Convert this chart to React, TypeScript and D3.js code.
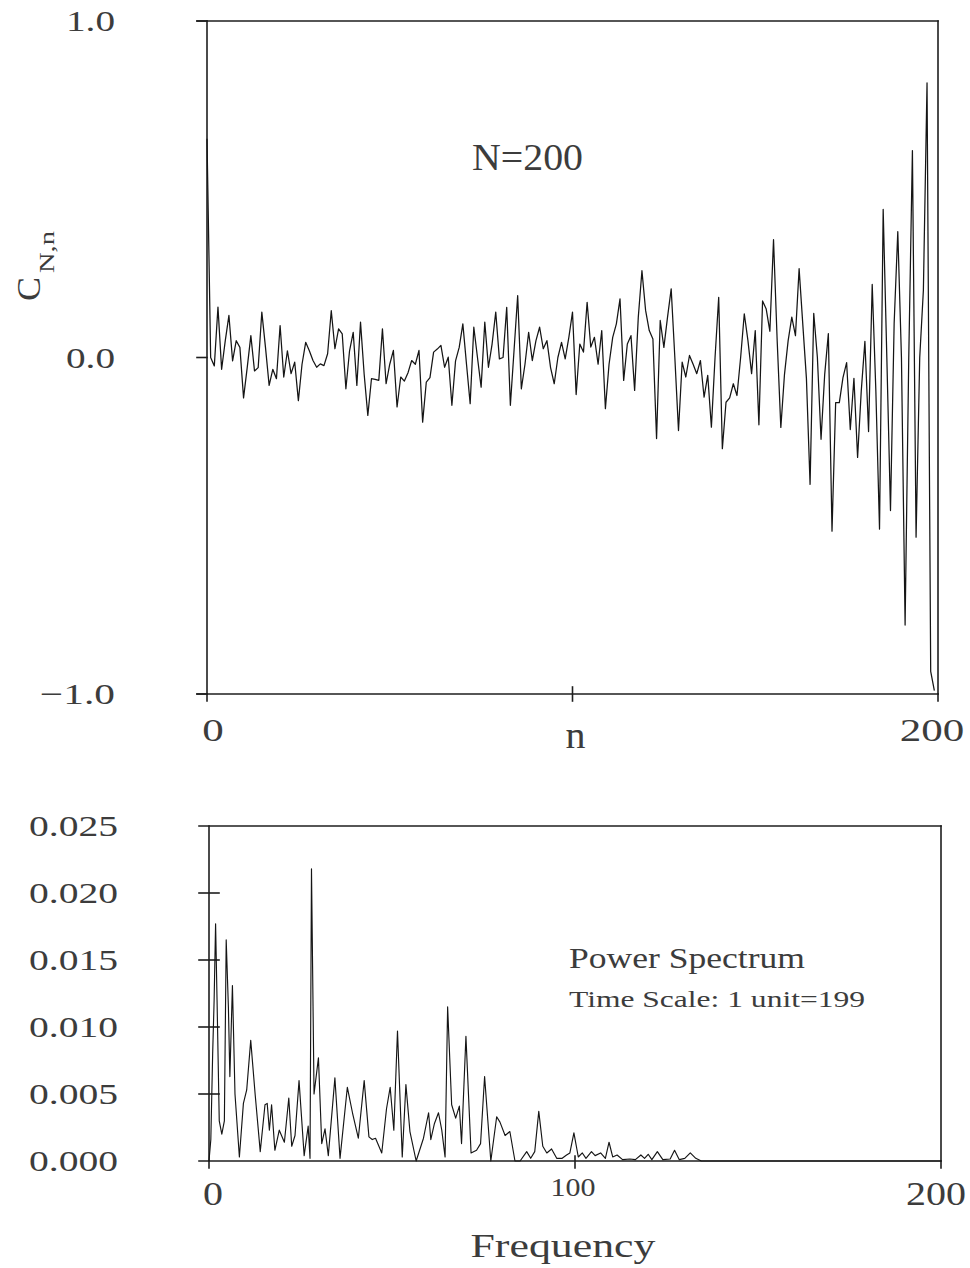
import React from 'react';
import * as d3 from 'd3';

// ---------- Data ----------
// Top panel: C_{N,n} for n = 0..199 (N = 200)
const corrValues: number[] = [
  0.65, 0.00, -0.025, 0.15, -0.035, 0.05, 0.125, -0.01, 0.05, 0.03,
  -0.12, -0.03, 0.065, -0.04, -0.03, 0.135, 0.03, -0.083, -0.035, -0.063,
  0.095, -0.058, 0.02, -0.048, -0.014, -0.128, -0.02, 0.045, 0.02, -0.009,
  -0.029, -0.019, -0.024, 0.011, 0.139, 0.026, 0.085, 0.07, -0.093, 0.02,
  0.075, -0.083, 0.105, -0.05, -0.172, -0.063, -0.065, -0.068, 0.085, -0.078,
  -0.02, 0.021, -0.147, -0.058, -0.07, -0.045, -0.009, -0.02, 0.021, -0.192,
  -0.073, -0.06, 0.016, 0.025, 0.036, -0.029, 0.001, -0.142, -0.01, 0.03,
  0.1, -0.02, -0.137, 0.09, 0.0, -0.088, 0.105, -0.029, 0.04, 0.135,
  -0.004, 0.0, 0.149, -0.142, 0.02, 0.184, -0.093, -0.02, 0.075, -0.009,
  0.05, 0.09, 0.026, 0.05, -0.03, -0.078, 0.0, 0.045, -0.004, 0.06,
  0.135, -0.11, 0.04, 0.016, 0.164, 0.031, 0.06, -0.02, 0.08, -0.152,
  -0.02, 0.06, 0.1, 0.174, -0.068, 0.04, 0.065, -0.098, 0.12, 0.258,
  0.14, 0.08, 0.055, -0.241, 0.11, 0.03, 0.12, 0.204, 0.0, -0.217,
  -0.014, -0.058, 0.006, -0.02, -0.048, -0.009, -0.118, -0.053, -0.207, 0.0,
  0.179, -0.271, -0.133, -0.12, -0.078, -0.113, 0.0, 0.13, 0.05, -0.048,
  0.08, -0.2, 0.168, 0.144, 0.078, 0.35, 0.05, -0.208, -0.05, 0.05,
  0.12, 0.065, 0.264, 0.1, -0.062, -0.377, 0.131, 0.0, -0.243, -0.05,
  0.071, -0.516, -0.134, -0.134, -0.06, -0.015, -0.214, -0.062, -0.297, -0.1,
  0.048, -0.22, 0.217, -0.1, -0.51, 0.44, 0.0, -0.455, 0.1, 0.374,
  0.0, -0.795, 0.0, 0.615, -0.534, 0.0, 0.2, 0.816, -0.933, -0.99,
];
const nIndex: number[] = corrValues.map((_, i) => i);

// Bottom panel: power spectrum (frequency, power)
const specFreq: number[] = [
  0, 0.5, 1.0, 1.4, 1.8, 2.2, 2.8, 3.5, 4.2, 4.7, 5.3, 5.7, 6.4, 7.1, 8.3, 9.4, 10.3, 11.4, 12.6,
  14.0, 15.3, 15.9, 16.5, 17.1, 18.0, 19.2, 20.6, 21.8, 22.6, 23.5, 24.6, 26.0, 27.1, 27.6, 28.0,
  28.7, 29.9, 30.8, 31.7, 32.6, 34.4, 35.8, 37.8, 39.2, 40.8, 42.4, 43.7, 44.6, 45.5, 47.2, 48.5,
  49.5, 50.5, 51.5, 52.8, 53.8, 54.9, 56.6, 58.6, 60.0, 60.6, 61.6, 62.7, 63.6, 64.5, 65.2, 66.3,
  67.4, 68.4, 69.0, 70.2, 71.6, 73.1, 74.2, 75.3, 77.0, 78.6, 79.5, 80.9, 82.2, 83.6, 85.0, 86.8,
  87.9, 89.0, 90.1, 91.2, 92.3, 93.6, 95.0, 96.5, 97.7, 98.6, 99.7, 100.9, 102.0, 103.0, 104.5,
  105.5, 107.0, 108.3, 109.3, 110.3, 111.5, 113.0, 115.0, 116.5, 118.0, 119.0, 120.0, 121.0,
  122.5, 124.0, 126.0, 127.2, 128.5, 130.0, 131.5, 133.0, 134.5, 200,
];
const specPower: number[] = [
  0, 0.0016, 0.008, 0.012, 0.0177, 0.012, 0.003, 0.002, 0.003, 0.0165, 0.0115, 0.0063, 0.0131, 0.005, 0.0003, 0.0043, 0.0053, 0.009, 0.005,
  0.0007, 0.0042, 0.0043, 0.0023, 0.0042, 0.0008, 0.0023, 0.0014, 0.0047, 0.0011, 0.0019, 0.006, 0.0004, 0.0026, 0.0002, 0.0218,
  0.005, 0.0077, 0.0013, 0.0024, 0.0004, 0.0062, 0.0002, 0.0055, 0.0036, 0.0017, 0.006, 0.0018, 0.0016, 0.0017, 0.0006, 0.0039,
  0.0055, 0.0023, 0.0097, 0.0003, 0.0057, 0.0022, 0.0, 0.0017, 0.0036, 0.0016, 0.0028, 0.0036, 0.0023, 0.0003, 0.0115, 0.0042,
  0.0032, 0.0041, 0.0013, 0.0093, 0.0006, 0.0008, 0.0013, 0.0063, 0.0, 0.0033, 0.0029, 0.0019, 0.0022, 0.0, 0.0, 0.0007,
  0.0002, 0.0007, 0.0037, 0.0011, 0.0006, 0.0009, 0.0002, 0.0002, 0.00045, 0.0006, 0.0021, 0.0003, 0.0006, 0.0002, 0.0007,
  0.0004, 0.0006, 0.0002, 0.0014, 0.0003, 0.00045, 0.0001, 0.00015, 0.0001, 0.00045, 0.0002, 0.0005, 0.0001,
  0.0007, 0.0001, 0.00015, 0.0008, 0.0001, 0.0002, 0.0006, 0.0002, 0.0, 0.0,
];

const topYTicks: number[] = [-1, 0, 1];
const topYLabels: string[] = ['\u22121.0', '0.0', '1.0'];
const topXTicks: number[] = [0, 100, 200];
const topXLabels: string[] = ['0', '', '200'];

const botYTicks: number[] = [0, 0.005, 0.01, 0.015, 0.02, 0.025];
const botYLabels: string[] = ['0.000', '0.005', '0.010', '0.015', '0.020', '0.025'];
const botXTicks: number[] = [0, 100, 200];
const botXLabels: string[] = ['0', '100', '200'];

// ---------- Styles ----------
const FONT = "'Liberation Serif', 'DejaVu Serif', serif";
const INK = '#1e1e1e';
const TXT = '#3c3c3c';

function labelWidth(s: string, digitW: number): number {
  let w = 0;
  for (const ch of s) {
    if (ch === '.') w += digitW * 0.45;
    else if (ch === '\u2212') w += digitW * 1.3;
    else w += digitW;
  }
  return w;
}

export default function App() {
  const xTop = d3.scaleLinear().domain([0, 200]).range([207, 938]);
  const yTop = d3.scaleLinear().domain([-1, 1]).range([694, 21]);
  const xBot = d3.scaleLinear().domain([0, 200]).range([209, 941]);
  const yBot = d3.scaleLinear().domain([0, 0.025]).range([1161, 826]);

  const topPath = d3
    .line<number>()
    .x((_, i) => xTop(nIndex[i]))
    .y((d) => yTop(d))(corrValues) as string;

  const botPath = d3
    .line<number>()
    .x((_, i) => xBot(specFreq[i]))
    .y((d) => yBot(d))(specPower) as string;

  const axisW = 1.6;

  const [tx0, tx1] = xTop.range();
  const ty0 = yTop(-1), ty1 = yTop(1);
  const [bx0, bx1] = xBot.range();
  const by0 = yBot(0), by1 = yBot(0.025);

  return (
    <svg
      width={970}
      height={1268}
      style={{ position: 'absolute', left: 0, top: 0, background: '#fff' }}
      fontFamily={FONT}
    >
      <rect x={0} y={0} width={970} height={1268} fill="#fff" />

      {/* ---------------- Top panel ---------------- */}
      <g stroke={INK} strokeWidth={axisW} fill="none" strokeLinecap="square">
        <line x1={tx0 - 10} y1={ty1} x2={tx1} y2={ty1} />
        <line x1={tx0 - 10} y1={ty0} x2={tx1} y2={ty0} />
        <line x1={tx0} y1={ty1} x2={tx0} y2={ty0} />
        <line x1={tx1} y1={ty1} x2={tx1} y2={ty0} />
        {topYTicks.map((t) => (
          <line key={'tyt' + t} x1={tx0 - 10} y1={yTop(t)} x2={tx0} y2={yTop(t)} />
        ))}
        {topXTicks.map((t) => (
          <line
            key={'txt' + t}
            x1={xTop(t)}
            y1={t === 100 ? ty0 - 7 : ty0}
            x2={xTop(t)}
            y2={ty0 + 7}
          />
        ))}
      </g>
      <path d={topPath} fill="none" stroke="#151515" strokeWidth={1.25} strokeLinejoin="round" />

      {topYTicks.map((t, i) => (
        <text
          key={'tyl' + t}
          x={115}
          y={yTop(t) + 10}
          fontSize={30}
          fill={TXT}
          textAnchor="end"
          textLength={labelWidth(topYLabels[i], 20)}
          lengthAdjust="spacingAndGlyphs"
        >
          {topYLabels[i]}
        </text>
      ))}
      {topXTicks.map((t, i) =>
        topXLabels[i] ? (
          <text
            key={'txl' + t}
            x={t === 0 ? xTop(t) + 6 : xTop(t) - 6}
            y={741}
            fontSize={32}
            fill={TXT}
            textAnchor="middle"
            textLength={labelWidth(topXLabels[i], 21.5)}
            lengthAdjust="spacingAndGlyphs"
          >
            {topXLabels[i]}
          </text>
        ) : null
      )}
      <text x={xTop(100) + 3} y={748} fontSize={38} fill={TXT} textAnchor="middle" textLength={20} lengthAdjust="spacingAndGlyphs">
        n
      </text>
      <text x={472} y={170} fontSize={37} fill={TXT} textLength={111} lengthAdjust="spacingAndGlyphs">
        N=200
      </text>
      <g transform="translate(40,301) rotate(-90)">
        <text x={0} y={0} fontSize={33} fill={TXT} textLength={24} lengthAdjust="spacingAndGlyphs">
          C
        </text>
        <text x={28} y={14} fontSize={22} fill={TXT} textLength={42} lengthAdjust="spacingAndGlyphs">
          N,n
        </text>
      </g>

      {/* ---------------- Bottom panel ---------------- */}
      <g stroke={INK} strokeWidth={axisW} fill="none" strokeLinecap="square">
        <line x1={bx0 - 10} y1={by1} x2={bx1} y2={by1} />
        <line x1={bx0 - 10} y1={by0} x2={bx1} y2={by0} />
        <line x1={bx0} y1={by1} x2={bx0} y2={by0} />
        <line x1={bx1} y1={by1} x2={bx1} y2={by0} />
        {botYTicks
          .filter((t) => t > 0 && t < 0.025)
          .map((t) => (
            <line key={'byt' + t} x1={bx0 - 10} y1={yBot(t)} x2={bx0 + 10} y2={yBot(t)} />
          ))}
        {botXTicks.map((t) => (
          <line
            key={'bxt' + t}
            x1={xBot(t)}
            y1={t === 100 ? by0 - 5 : by0}
            x2={xBot(t)}
            y2={by0 + 7}
          />
        ))}
      </g>
      <path d={botPath} fill="none" stroke="#151515" strokeWidth={1.15} strokeLinejoin="round" />

      {botYTicks.map((t, i) => (
        <text
          key={'byl' + t}
          x={118}
          y={yBot(t) + 10}
          fontSize={29}
          fill={TXT}
          textAnchor="end"
          textLength={labelWidth(botYLabels[i], 20)}
          lengthAdjust="spacingAndGlyphs"
        >
          {botYLabels[i]}
        </text>
      ))}
      {botXTicks.map((t, i) => (
        <text
          key={'bxl' + t}
          x={t === 0 ? xBot(t) + 4 : t === 200 ? xBot(t) - 5 : xBot(t) - 2}
          y={t === 100 ? 1196 : 1205}
          fontSize={t === 100 ? 26 : 33}
          fill={TXT}
          textAnchor="middle"
          textLength={labelWidth(botXLabels[i], t === 100 ? 15 : 20)}
          lengthAdjust="spacingAndGlyphs"
        >
          {botXLabels[i]}
        </text>
      ))}
      <text x={563} y={1257} fontSize={33} fill={TXT} textAnchor="middle" textLength={185} lengthAdjust="spacingAndGlyphs">
        Frequency
      </text>
      <text x={569} y={968} fontSize={29} fill={TXT} textLength={236} lengthAdjust="spacingAndGlyphs">
        Power Spectrum
      </text>
      <text x={569} y={1007} fontSize={23} fill={TXT} textLength={296} lengthAdjust="spacingAndGlyphs">
        Time Scale: 1 unit=199
      </text>
    </svg>
  );
}
